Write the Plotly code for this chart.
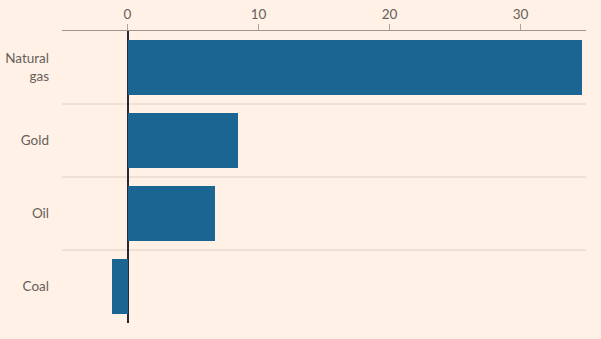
import plotly.graph_objects as go

categories = ["Natural<br>gas", "Gold", "Oil", "Coal"]
values = [34.7, 8.4, 6.7, -1.2]
tick_vals = [0, 10, 20, 30]
tick_text = ["0", "10", "20", "30"]

BG = "#fff1e5"
BAR = "#1a6591"
TXT = "#66605c"

fig = go.Figure(go.Bar(
    x=values, y=categories, orientation="h",
    marker=dict(color=BAR, line=dict(width=0)),
    width=0.74,
    hoverinfo="skip",
))

shapes = []
for i in range(len(categories) - 1):
    shapes.append(dict(type="line", xref="paper", yref="y",
                       x0=0, x1=1, y0=i + 0.5, y1=i + 0.5,
                       line=dict(color="#dcd0c6", width=1), layer="below"))

fig.update_layout(
    width=601, height=339,
    paper_bgcolor=BG, plot_bgcolor=BG,
    margin=dict(l=62, r=15, t=31, b=16),
    font=dict(family="Lato, Open Sans, sans-serif", size=13.5, color=TXT),
    showlegend=False,
    shapes=shapes,
    bargap=0,
)
fig.update_xaxes(
    side="top", range=[-5, 35], automargin=False,
    tickvals=tick_vals, ticktext=tick_text,
    ticks="outside", ticklen=6, tickcolor="#b0a49b", tickwidth=1,
    showline=True, linecolor="#a0938a", linewidth=1,
    showgrid=False,
    zeroline=True, zerolinecolor="#262a33", zerolinewidth=1.5,
    tickfont=dict(size=13.5, color=TXT),
)
fig.update_yaxes(
    range=[3.5, -0.5], type="category", automargin=False,
    showgrid=False, zeroline=False, showline=False,
    ticks="", ticklabelstandoff=12,
    tickfont=dict(size=13.5, color=TXT),
)

fig.write_html("out.html")
